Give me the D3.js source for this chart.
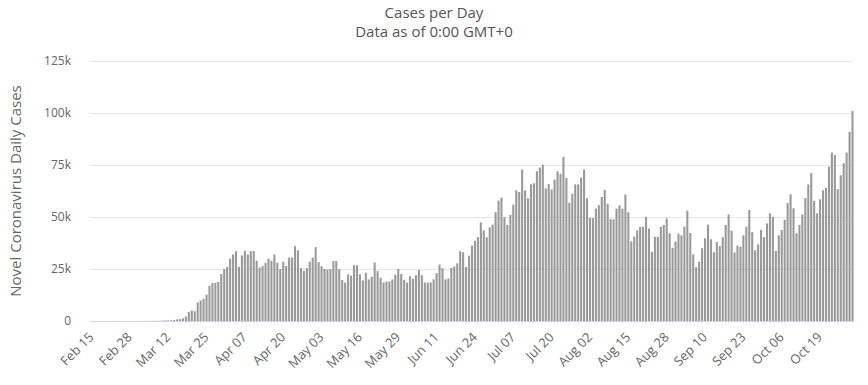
<!DOCTYPE html>
<html>
  <head>
    <title>Cases per Day</title>
    <script src="https://d3js.org/d3.v7.min.js"></script>
    <style>
      body { margin: 0; background: #fff; }
      text { font-family: "Open Sans", sans-serif; }
    </style>
  </head>
  <body>
    <script>

      // daily new cases, Feb 15 to Oct 30
      var cases = [
        0, 0, 0, 0, 0, 0, 1, 0, 0, 18, 0, 0, 0, 3, 1,
        8, 20, 22, 33, 75, 74, 98, 116, 121, 200, 271,
        287, 351, 511, 777, 900, 1300, 2200, 4300, 5100, 4700, 8900, 9900, 10700, 12700,
        17000, 18300, 18300, 18800, 22600, 25000, 26000, 30000, 32000, 33500,
        26000, 31500, 33800, 32000, 33600, 33600, 29000, 25700, 26500, 28000,
        30000, 29000, 32000, 28000, 25000, 28500, 26500, 30500, 30500, 36000,
        34000, 25500, 24000, 25500, 28500, 30500, 35500, 28300, 26300, 25000,
        24700, 25000, 28800, 28800, 25000, 19700, 18500, 22400, 21800, 26800,
        26800, 22500, 19500, 23200, 20000, 21300, 28100, 24000, 20800, 18500,
        19000, 19000, 20000, 22300, 25000, 22600, 19800, 18500, 21500, 20200,
        22000, 24500, 22000, 18500, 18500, 18500, 20000, 23000, 27100, 25400,
        20000, 20400, 25500, 26200, 27700, 33600, 33100, 26000, 31400, 36200,
        38600, 40300, 47400, 43500, 40300, 45000, 46300, 52300, 57900, 59300,
        50000, 46200, 51000, 55900, 62800, 62000, 72800, 62800, 59000, 65700,
        66200, 72000, 73800, 75200, 63800, 65800, 63300, 68000, 72000, 70800,
        78900, 68800, 56900, 61200, 65700, 65700, 69000, 72800, 59000, 49600,
        49500, 54000, 55700, 59600, 63000, 56300, 49000, 48900, 54000, 55600,
        54000, 60800, 52300, 38300, 40500, 43600, 45200, 45300, 50100, 44500,
        33300, 40400, 40400, 45300, 46200, 49300, 42200, 35200, 38200, 42000,
        41200, 45300, 53000, 42300, 32000, 25900, 28500, 35000, 39700, 46300,
        39300, 33100, 38000, 36000, 40300, 46200, 51200, 43400, 33000, 36200,
        35700, 41200, 45300, 53400, 42700, 34000, 36800, 43800, 40300, 46900,
        51800, 50100, 33700, 41200, 43800, 48700, 56700, 60900, 54200, 42200,
        46200, 51200, 59100, 65700, 71100, 57800, 51800, 58500, 62800, 64000,
        74200, 81000, 79800, 63400, 70100, 75900, 81000, 91000, 101000
      ]

      // one category per day
      var start_day = new Date(2020, 1, 15)
      var fmt = d3.timeFormat("%b %d")
      var categories = cases.map(function(d, i) {
        return fmt(d3.timeDay.offset(start_day, i))
      })

      // labels shown on the x-axis
      var x_ticks = ["Feb 15", "Feb 28", "Mar 12", "Mar 25", "Apr 07", "Apr 20",
        "May 03", "May 16", "May 29", "Jun 11", "Jun 24", "Jul 07", "Jul 20",
        "Aug 02", "Aug 15", "Aug 28", "Sep 10", "Sep 23", "Oct 06", "Oct 19"]
      var y_ticks = [0, 25000, 50000, 75000, 100000, 125000]

      // sizes
      var w_svg = 868
      var h_svg = 385
      var plot_left = 90
      var plot_right = 854
      var plot_top = 61
      var plot_bottom = 321

      var svg = d3.select("body")
        .append("svg")
        .attr("width", w_svg)
        .attr("height", h_svg)

      var x_scale = d3.scaleBand()
        .domain(categories)
        .range([plot_left, plot_right])
        .paddingInner(0.3)
        .paddingOuter(0.15)

      var y_scale = d3.scaleLinear()
        .domain([0, 125000])
        .range([plot_bottom, plot_top])

      // grid lines and y labels
      var y_axis = d3.axisLeft(y_scale)
        .tickValues(y_ticks)
        .tickSize(-(plot_right - 2 - plot_left))
        .tickPadding(19)
        .tickFormat(function(d) { return d == 0 ? "0" : (d / 1000) + "k" })

      var gy = svg.append("g")
        .attr("transform", "translate(" + plot_left + ",0)")
        .call(y_axis)
      gy.select(".domain").remove()
      gy.selectAll("line").attr("stroke", "#e6e6e6")
      gy.selectAll("text")
        .attr("fill", "#666")
        .style("font-size", "12px")

      // bars
      svg.selectAll("rect.bar")
        .data(cases)
        .enter()
        .append("rect")
        .attr("class", "bar")
        .attr("x", function(d, i) { return x_scale(categories[i]) })
        .attr("y", function(d) { return y_scale(d) })
        .attr("width", x_scale.bandwidth())
        .attr("height", function(d) { return plot_bottom - y_scale(d) })
        .attr("fill", "#999")

      // x axis
      var x_axis = d3.axisBottom(x_scale)
        .tickValues(x_ticks)
        .tickSize(0)
        .tickPadding(0)

      var gx = svg.append("g")
        .attr("transform", "translate(0," + plot_bottom + ")")
        .call(x_axis)
      gx.select(".domain")
        .attr("stroke", "#ccd6eb")
        .attr("d", "M" + plot_left + ",0.5H" + plot_right)
      gx.selectAll("text")
        .attr("fill", "#666")
        .style("font-size", "13px")
        .attr("text-anchor", "end")
        .attr("dy", null)
        .attr("y", null)
        .attr("transform", "translate(3,17) rotate(-45)")

      // titles
      svg.append("text")
        .attr("x", w_svg / 2)
        .attr("y", 18)
        .attr("text-anchor", "middle")
        .attr("fill", "#555")
        .style("font-size", "15px")
        .text("Cases per Day")

      svg.append("text")
        .attr("x", w_svg / 2)
        .attr("y", 37)
        .attr("text-anchor", "middle")
        .attr("fill", "#555")
        .style("font-size", "15px")
        .text("Data as of 0:00 GMT+0")

      // y-axis title
      svg.append("text")
        .attr("transform", "translate(21," + ((plot_top + plot_bottom) / 2) + ") rotate(-90)")
        .attr("text-anchor", "middle")
        .attr("fill", "#666")
        .style("font-size", "15px")
        .text("Novel Coronavirus Daily Cases")

    </script>
  </body>
</html>
